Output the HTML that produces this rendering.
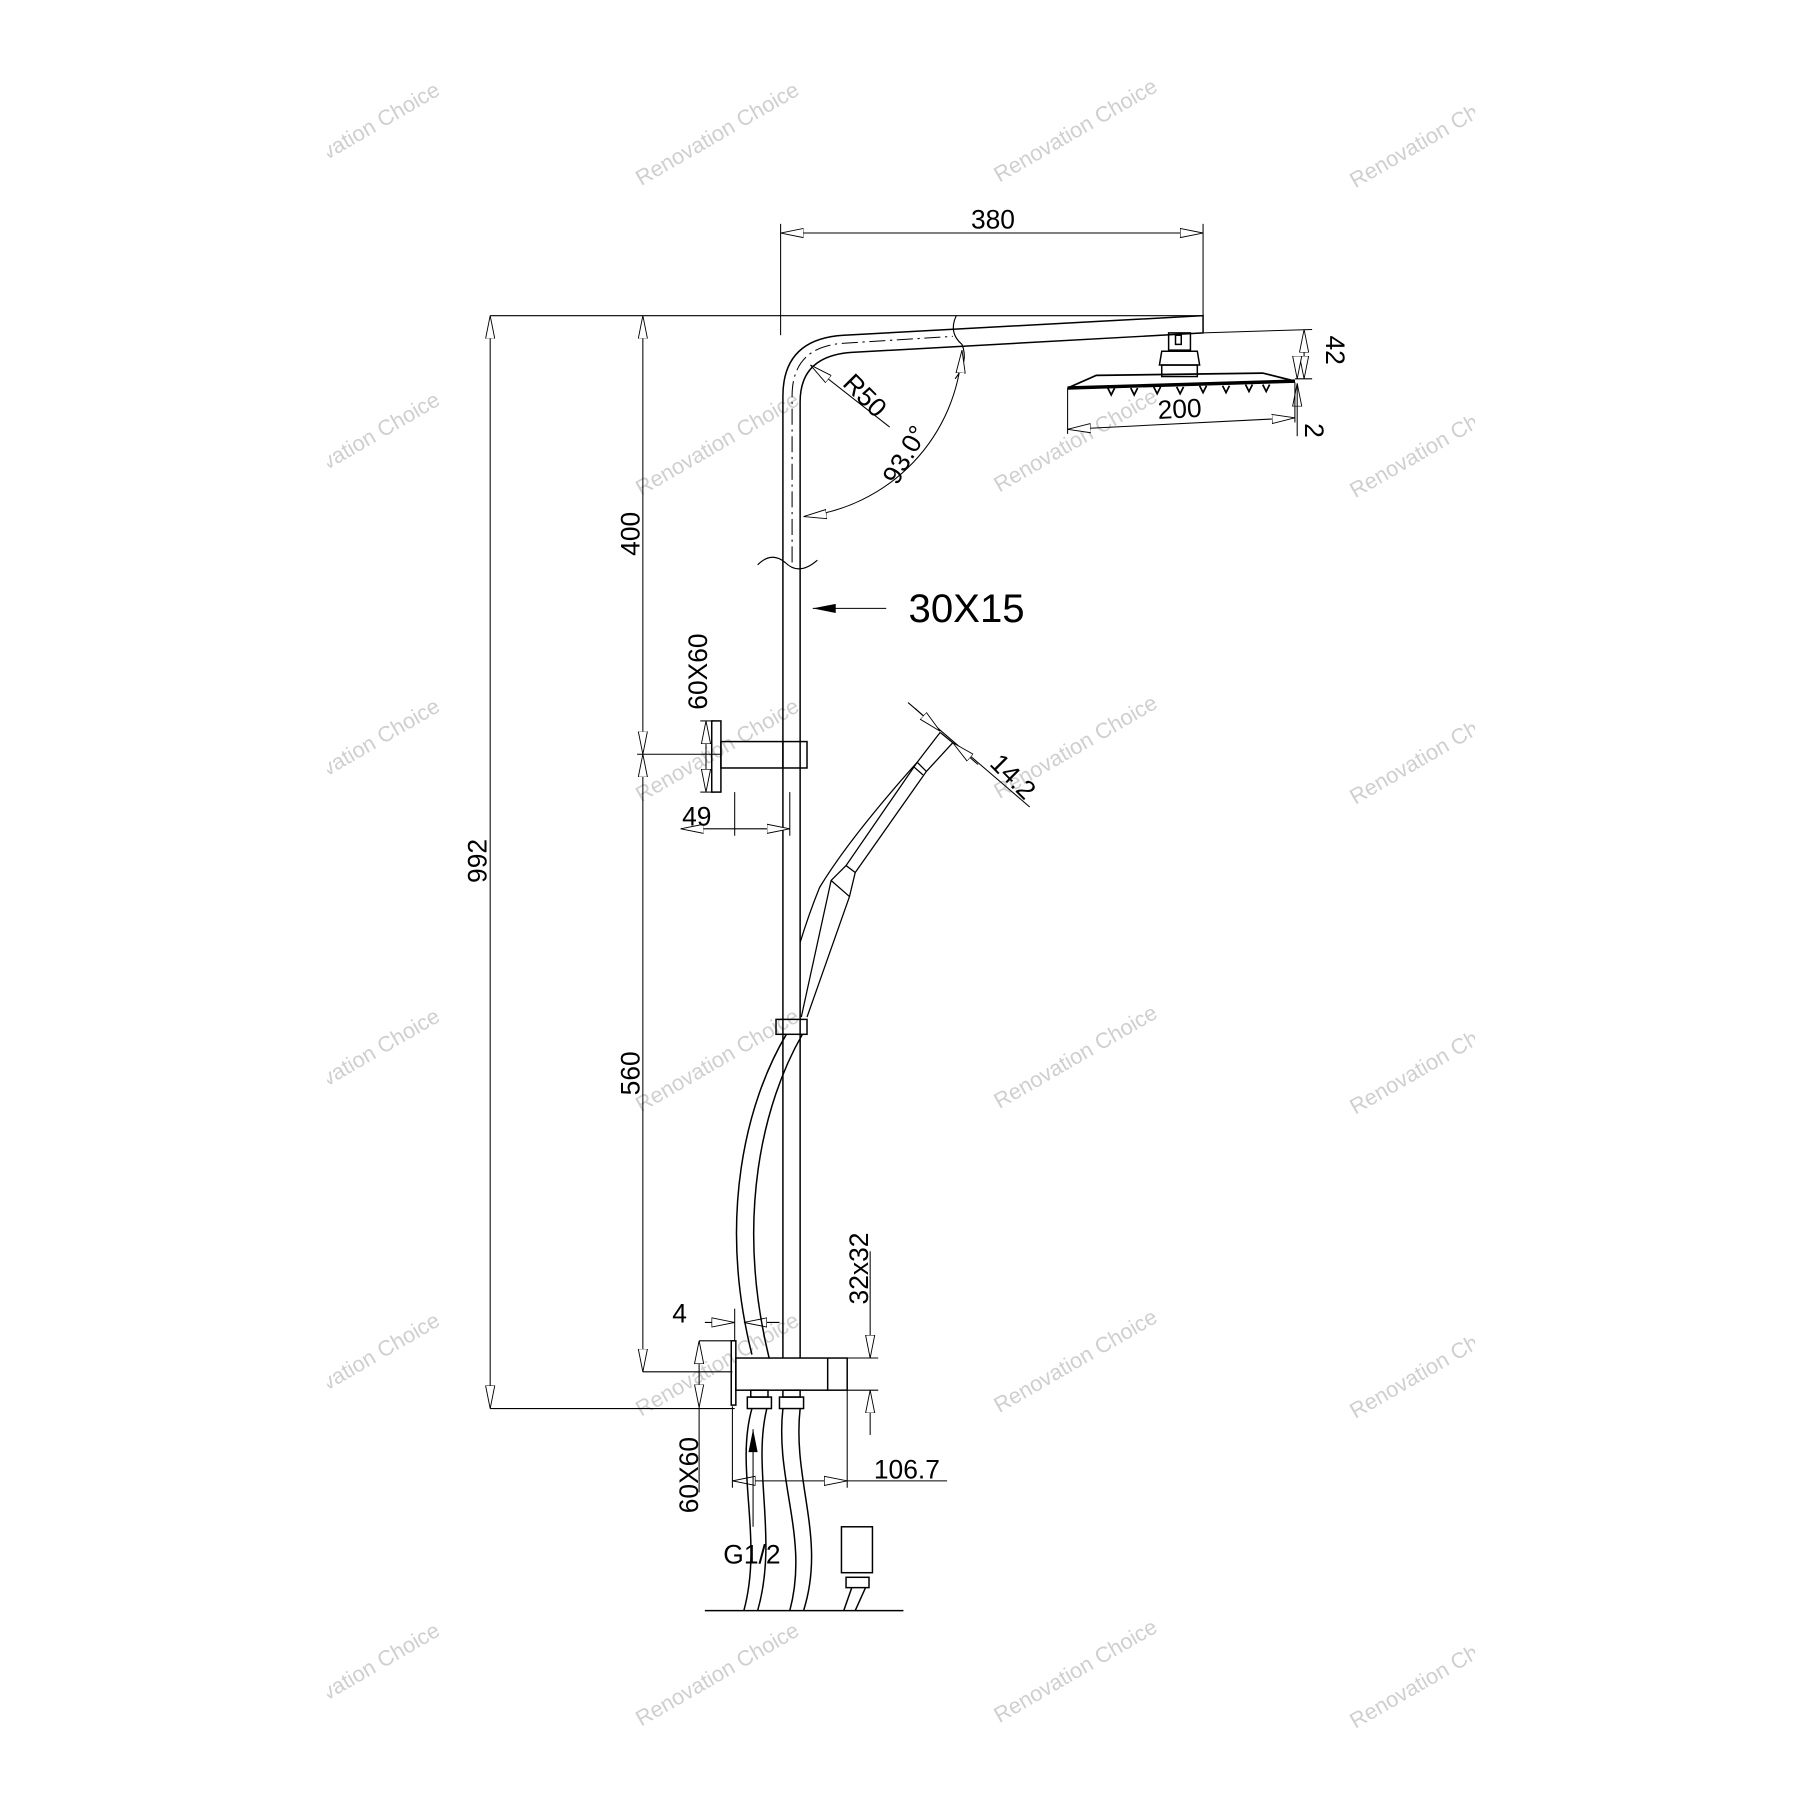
<!DOCTYPE html>
<html><head><meta charset="utf-8"><style>html,body{margin:0;padding:0;background:#fff}svg{display:block}</style></head>
<body>
<svg width="1800" height="1800" viewBox="0 0 1568 1568" xmlns="http://www.w3.org/2000/svg" font-family="Liberation Sans, sans-serif">
<defs>
<marker id="a" viewBox="0 0 20 10" refX="20" refY="5" markerWidth="20" markerHeight="10" markerUnits="userSpaceOnUse" orient="auto-start-reverse"><path d="M0,1 L20,5 L0,9 Z" fill="#fff" stroke="#000" stroke-width="0.8"/></marker>
<marker id="f" viewBox="0 0 20 10" refX="20" refY="5" markerWidth="22" markerHeight="10" markerUnits="userSpaceOnUse" orient="auto"><path d="M0,1 L20,5 L0,9 Z" fill="#000"/></marker>
<clipPath id="c"><rect x="285" y="60" width="1000" height="1450"/></clipPath>
</defs>
<g clip-path="url(#c)" fill="#cfcfcf" font-size="19" text-anchor="middle">
<g id="r"><text transform="translate(315,122) rotate(-30)">Renovation Choice</text><text transform="translate(628,122) rotate(-30)">Renovation Choice</text><text transform="translate(940,119) rotate(-30)">Renovation Choice</text><text transform="translate(1250,124) rotate(-30)">Renovation Choice</text></g>
<use href="#r" y="270"/><use href="#r" y="537"/><use href="#r" y="807"/><use href="#r" y="1072"/><use href="#r" y="1342"/>
</g>
<g fill="none" stroke="#000" stroke-width="1.3">
<path d="M682,1183 L682,345 Q682,295 735,292 L1048,275 L1048,290 L742,307 Q697,310 697,350 L697,1183"/>
<path d="M690,490 L690,345 Q690,302 735,299 L830,293" stroke-dasharray="14 4 2 4" stroke-width="0.9"/>
<path d="M660,492 Q672,480 684,490 Q696,502 712,488" stroke-width="1"/>
<path d="M833,275 Q826,290 838,300 Q844,315 832,330" stroke-width="1"/>
<g stroke-width="0.9">
<line x1="427" y1="275" x2="1048" y2="275"/>
<line x1="680" y1="195" x2="680" y2="292"/><line x1="1048" y1="195" x2="1048" y2="275"/>
<line x1="680" y1="203" x2="1048" y2="203" marker-start="url(#a)" marker-end="url(#a)"/>
<line x1="427" y1="275" x2="427" y2="1227" marker-start="url(#a)" marker-end="url(#a)"/>
<line x1="427" y1="1227" x2="640" y2="1227"/>
<line x1="560" y1="275" x2="560" y2="657" marker-start="url(#a)" marker-end="url(#a)"/>
<line x1="560" y1="657" x2="560" y2="1195" marker-start="url(#a)" marker-end="url(#a)"/>
<line x1="555" y1="657" x2="628" y2="657"/><line x1="560" y1="1195" x2="638" y2="1195"/>
<path d="M700,450 A155,155 0 0 0 838,305" marker-start="url(#a)" marker-end="url(#a)"/>
<line x1="706" y1="318" x2="775" y2="372" marker-start="url(#a)"/>
<line x1="1048" y1="290" x2="1143" y2="287"/><line x1="1128" y1="330" x2="1143" y2="330"/>
<line x1="1136" y1="287" x2="1136" y2="330" marker-start="url(#a)" marker-end="url(#a)"/>
<line x1="1130" y1="312" x2="1130" y2="330" marker-end="url(#a)"/><line x1="1130" y1="352" x2="1130" y2="334" marker-end="url(#a)"/>
<line x1="1130" y1="334" x2="1130" y2="380"/>
<line x1="930" y1="338" x2="930" y2="378"/><line x1="1128" y1="333" x2="1128" y2="368"/>
<line x1="930" y1="374" x2="1128" y2="364" marker-start="url(#a)" marker-end="url(#a)"/>
<line x1="772" y1="530" x2="708" y2="530" marker-end="url(#f)"/>
<line x1="615" y1="628" x2="615" y2="690" marker-start="url(#a)" marker-end="url(#a)"/>
<line x1="610" y1="628" x2="622" y2="628"/><line x1="610" y1="690" x2="622" y2="690"/>
<line x1="593" y1="722" x2="688" y2="722" marker-start="url(#a)" marker-end="url(#a)"/>
<line x1="640" y1="690" x2="640" y2="728"/><line x1="688" y1="690" x2="688" y2="728"/>
<!-- 14.2 -->
<line x1="791" y1="612" x2="897" y2="703"/>
<line x1="797" y1="617" x2="819" y2="637" marker-end="url(#a)"/><line x1="852" y1="666" x2="830" y2="647" marker-end="url(#a)"/>
<line x1="614" y1="1152" x2="640" y2="1152" marker-end="url(#a)"/><line x1="679" y1="1152" x2="648" y2="1152" marker-end="url(#a)"/>
<line x1="640" y1="1140" x2="640" y2="1168"/>
<line x1="609" y1="1168" x2="609" y2="1226" marker-start="url(#a)" marker-end="url(#a)"/>
<line x1="609" y1="1168" x2="640" y2="1168"/><line x1="609" y1="1226" x2="609" y2="1300"/>
<line x1="758" y1="1090" x2="758" y2="1183" marker-end="url(#a)"/><line x1="758" y1="1250" x2="758" y2="1211" marker-end="url(#a)"/>
<line x1="738" y1="1183" x2="765" y2="1183"/><line x1="738" y1="1211" x2="765" y2="1211"/>
<line x1="638" y1="1225" x2="638" y2="1296"/><line x1="738" y1="1211" x2="738" y2="1296"/>
<line x1="638" y1="1290" x2="738" y2="1290" marker-start="url(#a)" marker-end="url(#a)"/><line x1="738" y1="1290" x2="825" y2="1290"/>
<line x1="656" y1="1330" x2="656" y2="1245" marker-end="url(#f)"/>
</g>
<rect x="1018" y="290" width="19" height="15"/><rect x="1024" y="292" width="5" height="8"/>
<path d="M1010,318 L1012,306 L1043,306 L1045,318 Z"/><rect x="1012" y="318" width="31" height="10"/>
<path d="M955,327 L1100,325 L1128,332 L930,338 Z" stroke-width="1.5"/>
<line x1="930" y1="338" x2="1128" y2="332" stroke-width="3"/>
<g stroke-width="1.5"><path d="M965,338 l3,6 l3,-6 M985,338 l3,6 l3,-6 M1005,337 l3,6 l3,-6 M1025,337 l3,6 l3,-6 M1045,336 l3,6 l3,-6 M1065,336 l3,6 l3,-6 M1085,335 l3,6 l3,-6 M1100,335 l3,6 l3,-6"/></g>
<rect x="620" y="628" width="8" height="62"/>
<rect x="628" y="646" width="75" height="23"/><line x1="682" y1="646" x2="682" y2="669"/>
<!-- hand shower -->
<rect x="676" y="888" width="27" height="13"/>
<g stroke-width="1.1">
<path d="M819,638 L830,647 L807,672 L745,760"/>
<path d="M819,638 L799,664 Q740,730 714,773 Q705,795 697,821"/>
<path d="M799,664 L807,672 M796,668 L804,675"/>
<path d="M799,664 L737,754 L724,767 L698,886"/>
<path d="M737,754 L745,760 L740,781 L703,886"/>
<path d="M724,767 L740,781"/>
</g>
<path d="M685,901 C650,960 625,1060 655,1180 M699,901 C665,960 640,1060 670,1183"/>
<rect x="637" y="1168" width="4" height="56"/>
<rect x="641" y="1183" width="97" height="28"/><line x1="721" y1="1183" x2="721" y2="1211"/>
<rect x="651" y="1217" width="21" height="10"/><rect x="654" y="1211" width="15" height="6"/>
<rect x="679" y="1217" width="21" height="10"/><rect x="682" y="1211" width="15" height="6"/>
<path d="M655,1227 C640,1280 665,1340 648,1403 M668,1227 C655,1280 678,1340 660,1403"/>
<path d="M682,1227 C675,1290 705,1340 688,1403 M697,1227 C690,1290 720,1340 700,1403"/>
<rect x="733" y="1330" width="27" height="40"/><rect x="737" y="1374" width="20" height="9"/>
<path d="M742,1383 L735,1403 M754,1383 L745,1403"/>
<line x1="614" y1="1403" x2="787" y2="1403"/>
</g>
<g fill="#000" font-size="23" text-anchor="middle">
<text x="865" y="199">380</text>
<text transform="translate(424,750) rotate(-90)">992</text>
<text transform="translate(557,465) rotate(-90)">400</text>
<text transform="translate(557,935) rotate(-90)">560</text>
<text transform="translate(616,585) rotate(-90)">60X60</text>
<text x="607" y="719">49</text>
<text transform="translate(748,350) rotate(45)">R50</text>
<text transform="translate(795,400) rotate(-60)">93.0°</text>
<text transform="translate(1155,305) rotate(90)">42</text>
<text transform="translate(1137,375) rotate(90)">2</text>
<text x="1028" y="364" transform="rotate(-3,1028,364)">200</text>
<text x="842" y="542" font-size="35">30X15</text>
<text transform="translate(877,682) rotate(45)">14.2</text>
<text x="592" y="1152">4</text>
<text transform="translate(756,1105) rotate(-90)">32x32</text>
<text transform="translate(608,1285) rotate(-90)">60X60</text>
<text x="790" y="1288">106.7</text>
<text x="655" y="1362">G1/2</text>
</g>
</svg>
</body></html>
